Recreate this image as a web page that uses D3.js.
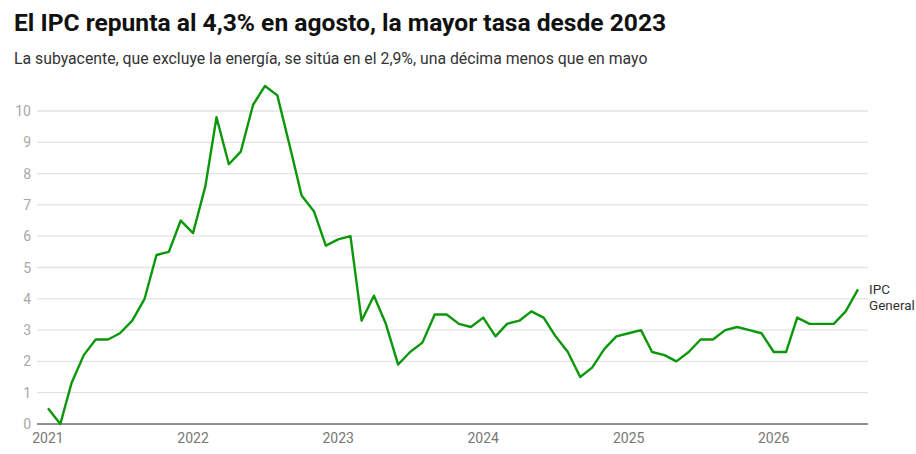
<!DOCTYPE html>
<html>
<head>
<meta charset="utf-8">
<script src="https://cdn.jsdelivr.net/npm/d3@7"></script>
<style>
  body { margin: 0; background: #fff; font-family: Roboto, sans-serif; }
  .title { font-weight: 700; font-size: 24.6px; fill: #111; }
  .sub { font-size: 15.8px; fill: #333; }
</style>
</head>
<body>
<svg id="chart" width="916" height="454"></svg>
<script>
// IPC general, tasa anual (%), mensual desde enero 2021
const startYear = 2021;
const ipc = [
  0.5, 0.0, 1.3, 2.2, 2.7, 2.7, 2.9, 3.3, 4.0, 5.4, 5.5, 6.5,
  6.1, 7.6, 9.8, 8.3, 8.7, 10.2, 10.8, 10.5, 8.9, 7.3, 6.8, 5.7,
  5.9, 6.0, 3.3, 4.1, 3.2, 1.9, 2.3, 2.6, 3.5, 3.5, 3.2, 3.1,
  3.4, 2.8, 3.2, 3.3, 3.6, 3.4, 2.8, 2.3, 1.5, 1.8, 2.4, 2.8,
  2.9, 3.0, 2.3, 2.2, 2.0, 2.3, 2.7, 2.7, 3.0, 3.1, 3.0, 2.9,
  2.3, 2.3, 3.4, 3.2, 3.2, 3.2, 3.6, 4.3
];
const yTicks = [0, 1, 2, 3, 4, 5, 6, 7, 8, 9, 10];
const xYears = [2021, 2022, 2023, 2024, 2025, 2026];
const seriesLabel = ["IPC", "General"];

const data = ipc.map((v, i) => ({date: new Date(startYear, i, 1), value: v}));

const svg = d3.select('#chart');

svg.append('text').attr('class', 'title').attr('x', 14).attr('y', 31)
  .text('El IPC repunta al 4,3% en agosto, la mayor tasa desde 2023');
svg.append('text').attr('class', 'sub').attr('x', 14).attr('y', 64)
  .text('La subyacente, que excluye la energía, se sitúa en el 2,9%, una décima menos que en mayo');

const gLeft = 37, gRight = 868, gBottom = 424;

const x = d3.scaleTime()
  .domain([new Date(2021, 0, 1), new Date(2026, 7, 1)])
  .range([48, 858]);
const y = d3.scaleLinear().domain([0, 10]).range([gBottom, 111]);

// rejilla
svg.append('g').selectAll('line')
  .data(yTicks.filter(d => d > 0))
  .enter().append('line')
  .attr('x1', gLeft).attr('x2', gRight)
  .attr('y1', d => y(d)).attr('y2', d => y(d))
  .style('stroke', '#e3e3e3').style('stroke-width', 1.3);

svg.append('g').selectAll('text')
  .data(yTicks)
  .enter().append('text')
  .attr('x', 31).attr('y', d => y(d))
  .attr('text-anchor', 'end')
  .attr('dominant-baseline', 'central')
  .style('font-size', '14px').style('fill', '#a8a8a8')
  .text(d => d);

svg.append('line')
  .attr('x1', gLeft).attr('x2', gRight)
  .attr('y1', gBottom).attr('y2', gBottom)
  .style('stroke', '#222').style('stroke-width', 1);

svg.append('g').selectAll('text')
  .data(xYears)
  .enter().append('text')
  .attr('x', d => x(new Date(d, 0, 1)))
  .attr('y', 443)
  .attr('text-anchor', 'middle')
  .style('font-size', '14px').style('fill', '#777')
  .text(d => d);

const line = d3.line()
  .x(d => x(d.date))
  .y(d => y(d.value));

svg.append('path')
  .datum(data)
  .attr('d', line)
  .style('fill', 'none')
  .style('stroke', '#0a980a')
  .style('stroke-width', 2.4)
  .style('stroke-linejoin', 'round');

const last = data[data.length - 1];
svg.append('text')
  .attr('x', 869).attr('y', y(last.value))
  .style('font-size', '13.5px').style('fill', '#333')
  .selectAll('tspan')
  .data(seriesLabel)
  .enter().append('tspan')
  .attr('x', 869)
  .attr('dy', (d, i) => i === 0 ? 5 : 16)
  .text(d => d);
</script>
</body>
</html>
